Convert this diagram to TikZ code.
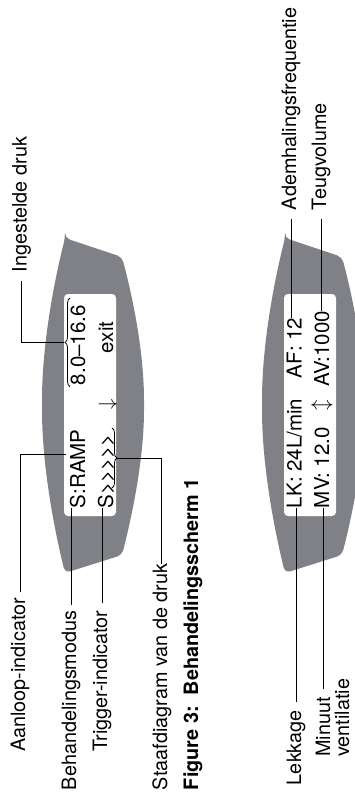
\documentclass[tikz,border=0pt]{standalone}
\usepackage{fontspec}
\setmainfont{TeX Gyre Heros}
\usepackage{tikz}
\usetikzlibrary{decorations.pathreplacing}
\definecolor{DevGray}{HTML}{808186}

\begin{document}
\begin{tikzpicture}[x=1pt,y=-1pt,
  lbl/.style={rotate=90,anchor=base west,inner sep=0pt,outer sep=0pt,font=\fontsize{19.8}{20}\selectfont},
  scr/.style={rotate=90,anchor=base west,inner sep=0pt,outer sep=0pt,font=\fontsize{20.5}{21}\selectfont},
  sym/.style={rotate=90,inner sep=0pt,font=\fontsize{20.5}{21}\selectfont},
  lead/.style={line width=0.8pt},
  brc/.style={decorate,decoration={brace,amplitude=5pt},line width=0.8pt}]
\useasboundingbox (0,0) rectangle (355,805);
\clip (0,0) rectangle (355,805);
\foreach \dx in {0,220}{
  \fill[DevGray,rounded corners=5pt,xshift=\dx pt] (65,238) -- (122,257) .. controls (136,310) and (144,360) .. (144,405) .. controls (144,450) and (136,500) .. (122,555) -- (65,573) .. controls (52,520) and (42,460) .. (42,405) .. controls (42,350) and (52,290) .. (65,238) -- cycle;
  \fill[white,rounded corners=4pt,xshift=\dx pt] (64,294) rectangle (116,516);
}
\node[scr] (ramp) at (85,508) {S:RAMP};
\node[scr] (range) at (85,385) {8.0--16.6};
\node[scr] (trig) at (113,508) {S>{}>{}>{}>{}>};
\node[scr] (exit) at (113,353) {exit};
\node[sym] (down) at (108,404) {$\downarrow$};
\node[scr] (lk) at (301.7,508) {LK: 24L/min};
\node[scr] (af) at (301.7,378) {AF: 12};
\node[scr] (mv) at (329,508) {MV: 12.0};
\node[scr] (av) at (329,386.7) {AV:1000};
\node[sym] (updown) at (322,405) {$\updownarrow$};
\draw[brc] (70,386.7) -- (70,298);
\draw[brc] (112,428) -- (112,488);
\coordinate (rangetip) at (64,342.7);
\coordinate (ramptip) at (66,454);
\coordinate (bartip) at (117,458);
\node[lbl] (ingest) at (26.7,272) {Ingestelde druk};
\node[lbl] (aan) at (25,751.7) {Aanloop-indicator};
\node[lbl] (modus) at (76,790) {Behandelingsmodus};
\node[lbl] (trigind) at (107,751.7) {Trigger-indicator};
\node[lbl] (staaf) at (167,790) {Staafdiagram van de druk};
\node[lbl,font=\fontsize{19.8}{20}\selectfont\bfseries] (caption) at (198,790) {Figure 3:\ \ Behandelingsscherm 1};
\node[lbl] (adem) at (296,210) {Ademhalingsfrequentie};
\node[lbl] (teug) at (326,210) {Teugvolume};
\node[lbl] (lekk) at (301,785) {Lekkage};
\node[lbl] (minuut) at (330,756.7) {Minuut};
\node[lbl] (vent) at (349,756.7) {ventilatie};
\draw[lead,shorten <=9pt] (ingest.west) |- (rangetip);
\draw[lead,shorten <=6pt] (aan.east) |- (ramptip);
\draw[lead,shorten <=6pt] (modus.east) -- (modus.east |- ramp.west);
\draw[lead,shorten <=7pt] (trigind.east) -- (trigind.east |- trig.west);
\draw[lead] (staaf.east) |- (bartip);
\draw[lead,shorten <=9pt] (adem.west) -- (adem.west |- af.east);
\draw[lead,shorten <=9pt] (teug.west) -- (teug.west |- av.east);
\draw[lead,shorten <=8pt] (lekk.east) -- (lekk.east |- lk.west);
\draw[lead,shorten <=8pt] (minuut.east) -- (minuut.east |- mv.west);
\end{tikzpicture}
\end{document}
